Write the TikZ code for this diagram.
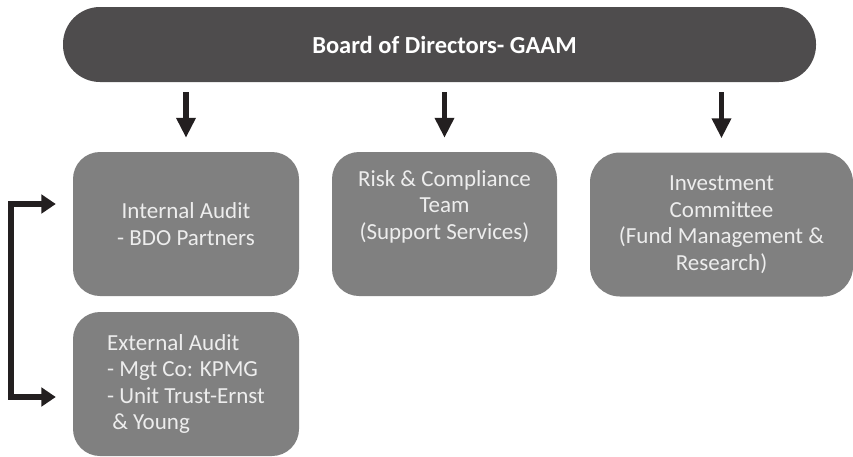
\documentclass[tikz,border=0pt]{standalone}
\usepackage{fontspec}
\setmainfont{Carlito}
\usetikzlibrary{arrows.meta}
\definecolor{boardgray}{RGB}{78,76,77}
\definecolor{unitgray}{RGB}{128,128,128}
\definecolor{arrowblack}{RGB}{35,31,32}
\begin{document}
\begin{tikzpicture}[x=1pt, y=-1pt,
  board/.style={fill=boardgray, rounded corners=37pt, minimum width=753pt, minimum height=75pt, text=white, font=\fontsize{24.5}{28}\selectfont\bfseries},
  unit/.style={fill=unitgray, rounded corners=27pt, minimum width=226pt, minimum height=144pt, inner sep=0pt, align=center, text=white!93!black, font=\fontsize{23}{26.5}\selectfont},
  down/.style={draw=arrowblack, line width=5.7pt, -{Triangle[length=20pt, width=18.5pt]}},
  link/.style={draw=arrowblack, line width=6.5pt, {Triangle[length=14.5pt, width=18.5pt]}-{Triangle[length=14.5pt, width=18.5pt]}}
]
  \useasboundingbox (0,0) rectangle (853,456);

  % === Board ===
  \node[board] (board) at (439.5,44.5) {\hspace*{10pt}Board of Directors- GAAM};

  % === Committees and teams ===
  \node[unit] (internal) at (186,224) {Internal Audit\\- BDO Partners};
  \node[unit, minimum width=225pt, text depth=38pt] (risk) at (444.5,224) {Risk \& Compliance\\Team\\(Support Services)};
  \node[unit, minimum width=263pt, rounded corners=30pt] (invest) at (721.5,224.5) {Investment\\Committee\\(Fund Management \&\\Research)};
  \node[unit, align=left] (external) at (186,384) {External Audit\\- Mgt Co: KPMG\\- Unit Trust-Ernst\\\ \& Young};

  % === Reporting lines ===
  \draw[down, shorten <=10pt, shorten >=14pt] (board.south -| internal.north) -- (internal.north);
  \draw[down, shorten <=10pt, shorten >=14pt] (board.south -| risk.north) -- (risk.north);
  \draw[down, shorten <=10pt, shorten >=14pt] (board.south -| invest.north) -- (invest.north);

  % audit link
  \draw[link] ([xshift=-17pt, yshift=20pt]internal.west) -- ++(-45,0) |- ([xshift=-17pt, yshift=-13pt]external.west);
\end{tikzpicture}
\end{document}
